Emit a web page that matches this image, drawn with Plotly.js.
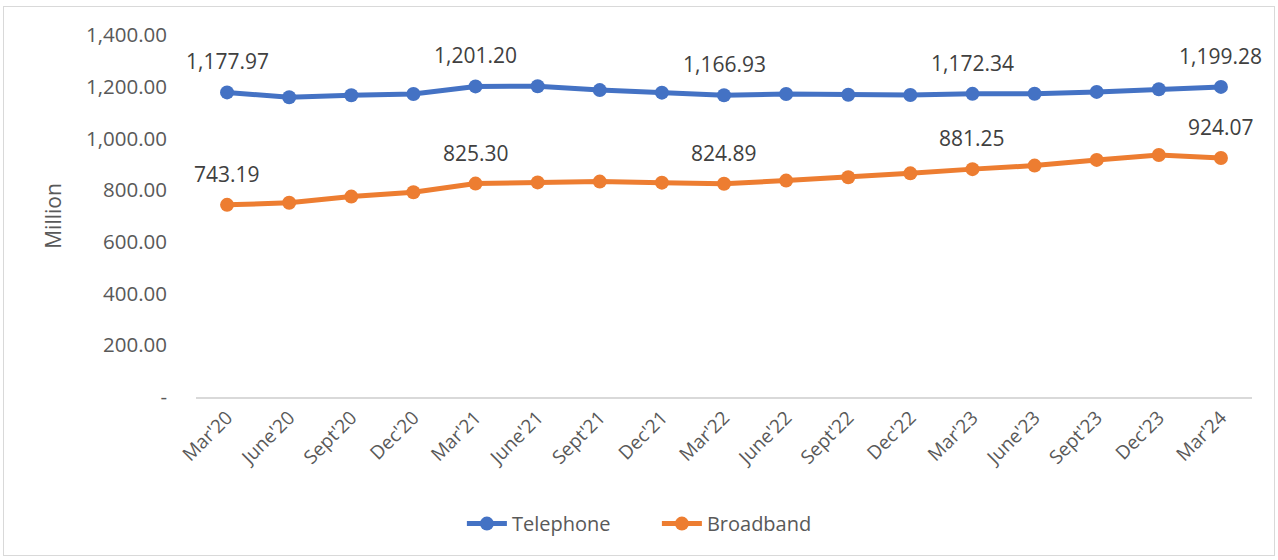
<!DOCTYPE html>
<html>
<head>
<meta charset="utf-8">
<script src="https://cdn.plot.ly/plotly-3.0.1.min.js"></script>
<style>
html,body{margin:0;padding:0;background:#fff;}
#chart{width:1278px;height:560px;}
#frame{position:absolute;left:3px;top:6px;width:1272px;height:550px;border:1px solid #d9d9d9;pointer-events:none;box-sizing:border-box;}
</style>
</head>
<body>
<div id="chart"></div>
<div id="frame"></div>
<script>
const categories = ["Mar'20","June'20","Sept'20","Dec'20","Mar'21","June'21","Sept'21","Dec'21","Mar'22","June'22","Sept'22","Dec'22","Mar'23","June'23","Sept'23","Dec'23","Mar'24"];
const telephone = [1177.97,1159,1167,1172,1201.20,1202,1187,1177,1166.93,1172,1169,1168,1172.34,1173,1180,1190,1199.28];
const broadband = [743.19,751,775,792,825.30,830,833,829,824.89,837,850,865,881.25,895,917,936,924.07];
const labelIdx = [0,4,8,12,16];
const yTicks = [0,200,400,600,800,1000,1200,1400];
const yTickText = ["-","200.00","400.00","600.00","800.00","1,000.00","1,200.00","1,400.00"];

const fmt = v => v.toLocaleString('en-US',{minimumFractionDigits:2,maximumFractionDigits:2});
const annotations = [];
labelIdx.forEach(i => {
  [telephone, broadband].forEach(s => {
    annotations.push({x: categories[i], y: s[i], xref:'x', yref:'y', text: fmt(s[i]),
      showarrow:false, yshift:31, yanchor:'middle', font:{family:'Open Sans', size:21, color:'#404040'}});
  });
});

const traces = [
  {x: categories, y: telephone, name:'Telephone', type:'scatter', mode:'lines+markers',
   line:{color:'#4472C4', width:5}, marker:{color:'#4472C4', size:14}},
  {x: categories, y: broadband, name:'Broadband', type:'scatter', mode:'lines+markers',
   line:{color:'#ED7D31', width:5}, marker:{color:'#ED7D31', size:14}}
];

const layout = {
  width:1278, height:560,
  margin:{l:196, r:26, t:35, b:163},
  paper_bgcolor:'#fff', plot_bgcolor:'#fff',
  font:{family:'Open Sans', color:'#595959'},
  showlegend:true,
  legend:{orientation:'h', x:0.514, xanchor:'center', xref:'container', y:0.065, yanchor:'middle', yref:'container',
    font:{size:20, color:'#595959'}, itemwidth:40, entrywidth:140},
  xaxis:{type:'category', range:[-0.5,16.5], tickangle:-45, showgrid:false, zeroline:false,
    showline:true, linecolor:'#d9d9d9', linewidth:2, ticks:'', tickfont:{size:19, color:'#595959'}},
  yaxis:{range:[0,1400], tickvals:yTicks, ticktext:yTickText, showgrid:false, zeroline:false,
    showline:false, ticks:'', ticklabelstandoff:28, tickfont:{size:20.5, color:'#595959'},
    title:{text:'Million', font:{size:21, color:'#595959'}, standoff:18}},
  annotations: annotations
};
Plotly.newPlot('chart', traces, layout, {displayModeBar:false, staticPlot:true});
</script>
</body>
</html>
